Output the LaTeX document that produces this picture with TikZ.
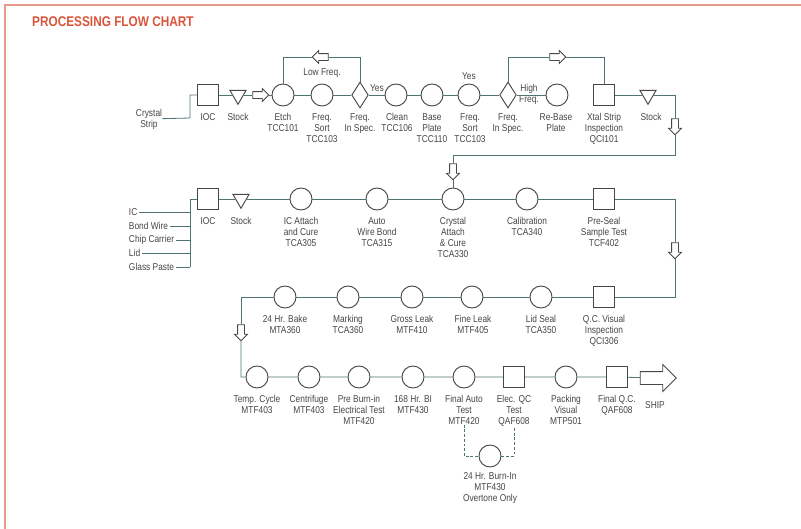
\documentclass[tikz,border=0pt]{standalone}
\usepackage{fontspec}
\setmainfont[FakeStretch=0.84]{Liberation Sans}
\usepackage{tikz}
\usetikzlibrary{shapes.geometric,shapes.arrows}
\definecolor{framered}{HTML}{E59A8A}
\definecolor{titlered}{HTML}{D9553A}
\definecolor{flowline}{HTML}{4F7474}
\definecolor{shapegray}{HTML}{474747}
\definecolor{textgray}{HTML}{454545}

\begin{document}
\begin{tikzpicture}[x=0.03cm, y=-0.03cm,
		op/.style={circle, draw=shapegray, fill=white, line width=0.8pt, minimum size=0.66cm, inner sep=0},
		insp/.style={rectangle, draw=shapegray, fill=white, line width=0.8pt, minimum size=0.62cm, inner sep=0},
		store/.style={regular polygon, regular polygon sides=3, shape border rotate=180, draw=shapegray, fill=white, line width=0.8pt, minimum size=0.56cm, inner sep=0},
		dec/.style={diamond, draw=shapegray, fill=white, line width=0.8pt, minimum width=0.5cm, minimum height=0.78cm, inner sep=0},
		move/.style={single arrow, draw=shapegray, fill=white, line width=0.7pt, inner xsep=0, inner ysep=0.09cm, single arrow head extend=0.09cm, minimum height=0.48cm},
		lbl/.style={anchor=north, align=center, inner sep=0, text=textgray, font=\fontsize{8.5}{9.4}\selectfont},
		link/.style={draw=flowline, line width=0.7pt},
		]
		\useasboundingbox (0,0) rectangle (801,529);
		\draw[framered, line width=0.06cm] (801,5) -- (5,5) -- (5,529);
		\node[anchor=west, inner sep=0, text=titlered, font=\fontsize{12}{12}\selectfont\bfseries] (title) at (32,22) {PROCESSING FLOW CHART};

		\node[lbl, anchor=center] (strip) at (149,119) {Crystal\\Strip};
		\coordinate (j1) at (190,118);
		\node[insp] (ioc1) at (208,95) {};
		\node[store] (stk1) at (238,95) {};
		\node[move] (arr1) at (259,95) {};
		\node[op] (etch) at (283,95) {};
		\node[op] (fsort1) at (322,95) {};
		\node[dec] (spec1) at (360,95) {};
		\node[move, shape border rotate=180] (arr2) at (322,57) {};
		\node[op] (clean) at (396,95) {};
		\node[op] (bplate) at (432,95) {};
		\node[op] (fsort2) at (469,95) {};
		\node[dec] (spec2) at (508,95) {};
		\node[op] (rebase) at (557,95) {};
		\node[move] (arr3) at (556,57) {};
		\node[insp] (xtal) at (604,95) {};
		\node[store] (stk2) at (648,95) {};
		\node[move, rotate=-90] (arr4) at (675,125) {};
		\coordinate (j2) at (675,155);
		\node[move, rotate=-90] (arr5) at (453,170) {};

		\node[lbl] (ioc1-l) at (208,113) {IOC};
		\node[lbl] (stk1-l) at (238,113) {Stock};
		\node[lbl] (etch-l) at (283,113) {Etch\\TCC101};
		\node[lbl] (fsort1-l) at (322,113) {Freq.\\Sort\\TCC103};
		\node[lbl] (spec1-l) at (360,113) {Freq.\\In Spec.};
		\node[lbl, anchor=center] (lowf) at (322,73) {Low Freq.};
		\node[lbl, anchor=center] (yes1) at (377,88) {Yes};
		\node[lbl] (clean-l) at (397,113) {Clean\\TCC106};
		\node[lbl] (bplate-l) at (432,113) {Base\\Plate\\TCC110};
		\node[lbl] (fsort2-l) at (470,113) {Freq.\\Sort\\TCC103};
		\node[lbl, anchor=center] (yes2) at (469,76) {Yes};
		\node[lbl] (spec2-l) at (508,113) {Freq.\\In Spec.};
		\node[lbl, anchor=center] (highf) at (529,94) {High\\Freq.};
		\node[lbl] (rebase-l) at (556,113) {Re-Base\\Plate};
		\node[lbl] (xtal-l) at (604,113) {Xtal Strip\\Inspection\\QCI101};
		\node[lbl] (stk2-l) at (651,113) {Stock};

		\node[insp] (ioc2) at (208,199) {};
		\node[store] (stk3) at (241,199) {};
		\node[op] (icatt) at (301,199) {};
		\node[op] (wbond) at (377,199) {};
		\node[op] (cattach) at (453,199) {};
		\node[op] (calib) at (527,199) {};
		\node[insp] (preseal) at (604,199) {};
		\node[move, rotate=-90] (arr6) at (675,249) {};
		\coordinate (j3) at (190,199);
		\node[lbl, anchor=west, inner xsep=1.5pt] (in1) at (127,212) {IC};
		\node[lbl, anchor=west, inner xsep=1.5pt] (in2) at (127,226) {Bond Wire};
		\node[lbl, anchor=west, inner xsep=1.5pt] (in3) at (127,240) {Chip Carrier};
		\node[lbl, anchor=west, inner xsep=1.5pt] (in4) at (127,253) {Lid};
		\node[lbl, anchor=west, inner xsep=1.5pt] (in5) at (127,267) {Glass Paste};

		\node[lbl] (ioc2-l) at (208,217) {IOC};
		\node[lbl] (stk3-l) at (241,217) {Stock};
		\node[lbl] (icatt-l) at (301,217) {IC Attach\\and Cure\\TCA305};
		\node[lbl] (wbond-l) at (377,217) {Auto\\Wire Bond\\TCA315};
		\node[lbl] (cattach-l) at (453,217) {Crystal\\Attach\\\& Cure\\TCA330};
		\node[lbl] (calib-l) at (527,217) {Calibration\\TCA340};
		\node[lbl] (preseal-l) at (604,217) {Pre-Seal\\Sample Test\\TCF402};

		\node[insp] (qcvis) at (604,297) {};
		\node[op] (lidseal) at (541,297) {};
		\node[op] (fleak) at (472,297) {};
		\node[op] (gleak) at (412,297) {};
		\node[op] (marking) at (348,297) {};
		\node[op] (bake) at (285,297) {};
		\coordinate (j4) at (241,297);
		\node[move, rotate=-90] (arr7) at (241,331) {};

		\node[lbl] (bake-l) at (285,315) {24 Hr. Bake\\MTA360};
		\node[lbl] (marking-l) at (348,315) {Marking\\TCA360};
		\node[lbl] (gleak-l) at (412,315) {Gross Leak\\MTF410};
		\node[lbl] (fleak-l) at (473,315) {Fine Leak\\MTF405};
		\node[lbl] (lidseal-l) at (541,315) {Lid Seal\\TCA350};
		\node[lbl] (qcvis-l) at (604,315) {Q.C. Visual\\Inspection\\QCI306};

		\node[op] (tcycle) at (257,377) {};
		\node[op] (centri) at (309,377) {};
		\node[op] (preburn) at (359,377) {};
		\node[op] (bi168) at (413,377) {};
		\node[op] (fauto) at (464,377) {};
		\node[insp] (elecqc) at (514,377) {};
		\node[op] (packing) at (566,377) {};
		\node[insp] (finalqc) at (617,377) {};
		\node[move, inner ysep=0.18cm, single arrow head extend=0.21cm, minimum height=1.08cm] (ship) at (655,378) {};
		\node[op] (burn) at (490,456) {};

		\node[lbl] (tcycle-l) at (257,395) {Temp. Cycle\\MTF403};
		\node[lbl] (centri-l) at (309,395) {Centrifuge\\MTF403};
		\node[lbl] (preburn-l) at (359,395) {Pre Burn-in\\Electrical Test\\MTF420};
		\node[lbl] (bi168-l) at (413,395) {168 Hr. BI\\MTF430};
		\node[lbl] (fauto-l) at (464,395) {Final Auto\\Test\\MTF420};
		\node[lbl] (elecqc-l) at (514,395) {Elec. QC\\Test\\QAF608};
		\node[lbl] (packing-l) at (566,395) {Packing\\Visual\\MTP501};
		\node[lbl] (finalqc-l) at (617,395) {Final Q.C.\\QAF608};
		\node[lbl, anchor=center] (ship-l) at (655,405) {SHIP};
		\node[lbl] (burn-l) at (490,472) {24 Hr. Burn-In\\MTF430\\Overtone Only};

		\draw[link] (strip) -- (j1) |- (ioc1);
		\draw[link] (ioc1) -- (stk1) -- (arr1) -- (etch) -- (fsort1) -- (spec1) -- (clean) -- (bplate) -- (fsort2) -- (spec2) -- (rebase);
		\draw[link] (etch.north) |- (arr2) -| (spec1.north);
		\draw[link] (spec2.north) |- (arr3) -| (xtal.north);
		\draw[link] (xtal) -- (stk2) -| (arr4);
		\draw[link] (arr4) -- (j2) -| (arr5);
		\draw[link] (arr5) -- (cattach);

		\draw[link] (j3 |- in5) -- (j3) -- (ioc2) -- (stk3) -- (icatt) -- (wbond) -- (cattach) -- (calib) -- (preseal) -| (arr6);
		\foreach \i in {1,...,5}
			\draw[link] (in\i) -- (in\i -| j3);
		\draw[link] (arr6) |- (qcvis) -- (lidseal) -- (fleak) -- (gleak) -- (marking) -- (bake) -- (j4) -- (arr7);
		\draw[link] (arr7) |- (tcycle) -- (centri) -- (preburn) -- (bi168) -- (fauto) -- (elecqc) -- (packing) -- (finalqc) -- (ship);
		\draw[link, dash pattern=on 2.5pt off 1.5pt] (fauto-l) |- (burn) -| (elecqc-l);
\end{tikzpicture}
\end{document}
